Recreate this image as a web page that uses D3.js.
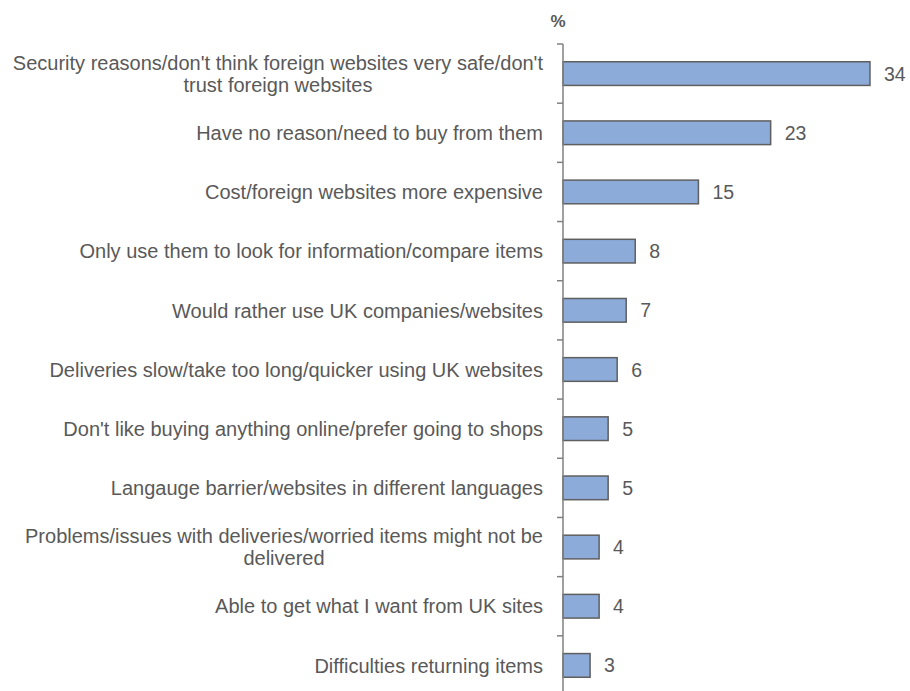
<!DOCTYPE html>
<html>
<head>
<meta charset="utf-8">
<script src="https://cdn.jsdelivr.net/npm/d3@7"></script>
<style>
  html, body { margin: 0; padding: 0; background: #ffffff; }
  svg { display: block; }
  text { font-family: "Liberation Sans", Arial, sans-serif; }
</style>
</head>
<body>
<svg id="chart" width="910" height="691"></svg>
<script>
// Reasons for not buying from foreign websites (%)
const categories = [
  "Security reasons/don't think foreign websites very safe/don't trust foreign websites",
  "Have no reason/need to buy from them",
  "Cost/foreign websites more expensive",
  "Only use them to look for information/compare items",
  "Would rather use UK companies/websites",
  "Deliveries slow/take too long/quicker using UK websites",
  "Don't like buying anything online/prefer going to shops",
  "Langauge barrier/websites in different languages",
  "Problems/issues with deliveries/worried items might not be delivered",
  "Able to get what I want from UK sites",
  "Difficulties returning items"
];
const values = [34, 23, 15, 8, 7, 6, 5, 5, 4, 4, 3];
const unitLabel = "%";

const svg = d3.select("#chart");
const axisX = 563;
const plotTop = 44;
const textColor = "#595959";
const fontSize = 20;

const x = d3.scaleLinear().domain([0, 35]).range([axisX, axisX + 316]);
const y = d3.scaleBand()
  .domain(categories)
  .range([plotTop, plotTop + 651])
  .paddingInner(0.6)
  .paddingOuter(0.3);

const step = y.step();

// Bars
svg.append("g").selectAll("rect")
  .data(values)
  .join("rect")
  .attr("x", x(0))
  .attr("y", (d, i) => y(categories[i]))
  .attr("width", d => x(d) - x(0))
  .attr("height", y.bandwidth())
  .attr("fill", "#8cabd9")
  .attr("stroke", "#5f5f5f")
  .attr("stroke-width", 1.5);

// Value labels
svg.append("g").selectAll("text")
  .data(values)
  .join("text")
  .attr("x", d => x(d) + 14)
  .attr("y", (d, i) => y(categories[i]) + y.bandwidth() / 2)
  .attr("dy", "0.36em")
  .attr("font-size", 19.5)
  .attr("fill", textColor)
  .text(d => d);

// Axis line with ticks at band boundaries
const axisG = svg.append("g");
axisG.append("line")
  .attr("x1", axisX).attr("x2", axisX)
  .attr("y1", plotTop).attr("y2", 700)
  .attr("stroke", "#808080").attr("stroke-width", 1.5);
axisG.selectAll("line.tick")
  .data(d3.range(categories.length))
  .join("line")
  .attr("class", "tick")
  .attr("x1", axisX - 6).attr("x2", axisX)
  .attr("y1", i => y(categories[i]) - step * 0.3)
  .attr("y2", i => y(categories[i]) - step * 0.3)
  .attr("stroke", "#808080").attr("stroke-width", 1.5);

// Category labels, wrapped to the space left of the axis
const labelRight = 543;
const maxWidth = 548;
const lineHeight = 22;
const labels = svg.append("g").selectAll("text")
  .data(categories)
  .join("text")
  .attr("text-anchor", "middle")
  .attr("font-size", fontSize)
  .attr("fill", textColor);

labels.each(function (d) {
  const t = d3.select(this);
  const words = d.split(" ");
  const lines = [];
  let line = [];
  const probe = t.append("tspan");
  for (const w of words) {
    line.push(w);
    probe.text(line.join(" "));
    if (probe.node().getComputedTextLength() > maxWidth && line.length > 1) {
      line.pop();
      lines.push(line.join(" "));
      line = [w];
    }
  }
  lines.push(line.join(" "));
  probe.remove();

  // width of widest line sets the centre so the block is right-aligned
  const widths = lines.map(l => {
    const s = t.append("tspan").text(l);
    const wd = s.node().getComputedTextLength();
    s.remove();
    return wd;
  });
  const blockW = d3.max(widths);
  const cx = labelRight - blockW / 2;
  const cy = y(d) + y.bandwidth() / 2;
  const y0 = cy - (lines.length - 1) * lineHeight / 2;
  lines.forEach((l, k) => {
    t.append("tspan")
      .attr("x", cx)
      .attr("y", y0 + k * lineHeight)
      .attr("dy", "0.36em")
      .text(l);
  });
});

// Unit label above the axis
svg.append("text")
  .attr("x", axisX - 5)
  .attr("y", 27)
  .attr("text-anchor", "middle")
  .attr("font-size", 17)
  .attr("font-weight", "bold")
  .attr("fill", textColor)
  .text(unitLabel);
</script>
</body>
</html>
